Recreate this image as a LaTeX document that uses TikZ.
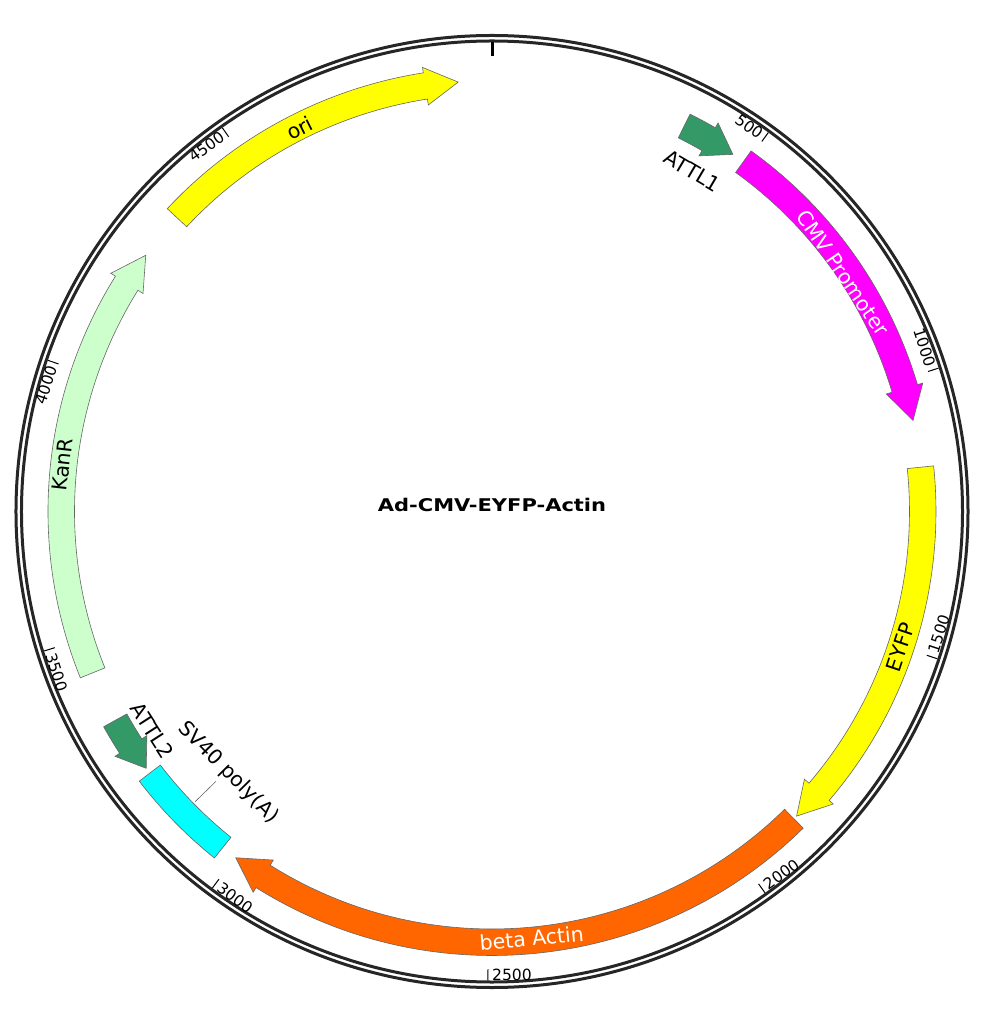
\documentclass[tikz,border=0pt]{standalone}
\usepackage{fontspec}
\usepackage{graphicx}
\setmainfont{DejaVu Sans}
\definecolor{ringcol}{HTML}{262626}
\definecolor{featline}{HTML}{666666}
\definecolor{oriyel}{HTML}{FFFF00}
\definecolor{attgreen}{HTML}{339966}
\definecolor{cmvmag}{HTML}{FF00FF}
\definecolor{actorange}{HTML}{FF6600}
\definecolor{svcyan}{HTML}{00FFFF}
\definecolor{kanlight}{HTML}{CCFFCC}
\def\fRo{444pt}
\def\fRi{417.5pt}
\def\fRm{430.75pt}
\def\fHo{449.5pt}
\def\fHi{411.5pt}
% #1 colour, #2 tail angle, #3 head base angle, #4 tip angle
\newcommand{\featarrow}[4]{%
  \filldraw[feat, fill=#1] (#2:\fRo) arc[start angle=#2, end angle=#3, radius=\fRo]
    -- (#3:\fHo) -- (#4:\fRm) -- (#3:\fHi) -- (#3:\fRi)
    arc[start angle=#3, end angle=#2, radius=\fRi] -- cycle;}
\tikzset{
  ring/.style={draw=ringcol, line width=3pt},
  feat/.style={draw=featline, line width=0.6pt},
  ticklbl/.style={font=\fontsize{15.5pt}{18pt}\selectfont, inner sep=0pt},
  featlbl/.style={font=\fontsize{20.5pt}{24pt}\selectfont, inner sep=0pt},
  minortick/.style={line width=1pt, draw=black},
  zerotick/.style={line width=3pt, draw=black},
  leader/.style={draw=featline, line width=0.6pt},
}
\begin{document}
\begin{tikzpicture}
\useasboundingbox (-492pt,-510.5pt) rectangle (493pt,511.5pt);
% backbone
\draw[ring] (0,0) circle[radius=476pt];
\draw[ring] (0,0) circle[radius=470.5pt];
% ticks
\draw[zerotick] (90:455pt) -- (90:469pt);
\foreach \t in {53.9,17.8,-18.3,-54.4,-90.5,-126.6,-162.7,-198.8,-234.9}
  \draw[minortick] (\t:458pt) -- (\t:469pt);
% tick labels
\node[ticklbl, anchor=base east, rotate=-36.1] (t500) at (54.4:457pt) {500};
\node[ticklbl, anchor=base east, rotate=-72.2] (t1000) at (18.3:457pt) {1000};
\node[ticklbl, anchor=base west, rotate=71.7] (t1500) at (-17.8:469pt) {1500};
\node[ticklbl, anchor=base west, rotate=35.6] (t2000) at (-53.9:469pt) {2000};
\node[ticklbl, anchor=base west, rotate=-0.5] (t2500) at (-90:469pt) {2500};
\node[ticklbl, anchor=base west, rotate=-36.6] (t3000) at (-126.1:469pt) {3000};
\node[ticklbl, anchor=base west, rotate=-72.7] (t3500) at (-162.2:469pt) {3500};
\node[ticklbl, anchor=base east, rotate=71.2] (t4000) at (-198.3:457pt) {4000};
\node[ticklbl, anchor=base east, rotate=35.1] (t4500) at (-234.4:457pt) {4500};
% features
\featarrow{oriyel}{137}{98.9}{94.5}
\featarrow{attgreen}{63.5}{59.8}{56}
\featarrow{cmvmag}{54.3}{16.6}{12.2}
\featarrow{oriyel}{5.9}{-40.6}{-45}
\featarrow{actorange}{-45.5}{-122.1}{-126.5}
\filldraw[feat, fill=svcyan] (-128.7:\fRo) arc[start angle=-128.7, end angle=-142.6, radius=\fRo]
  -- (-142.6:\fRi) arc[start angle=-142.6, end angle=-128.7, radius=\fRi] -- cycle;
\featarrow{attgreen}{-151}{-147}{-143.4}
\featarrow{kanlight}{-158}{-212}{-216.5}
% feature labels
\node[featlbl, rotate=26.65] (lori) at (116.65:429pt) {ori};
\node[featlbl, text=white, rotate=-55.8] (lcmv) at (34.2:424.5pt) {CMV Promoter};
\node[featlbl, rotate=71.6] (leyfp) at (-18.4:430pt) {EYFP};
\node[featlbl, text=white, rotate=5.3] (lact) at (-84.7:428.5pt) {beta Actin};
\node[featlbl, rotate=83.8] (lkan) at (-186.2:432pt) {KanR};
\node[featlbl, rotate=-30.5] (latt1) at (59.5:395pt) {ATTL1};
\node[featlbl, rotate=-57.2] (latt2) at (-147.2:404pt) {ATTL2};
\node[featlbl, rotate=-45.3] (lsv) at (-135.3:371pt) {SV40 poly(A)};
\coordinate (svbox) at (-135.65:415pt);
\coordinate (svlbl) at (-135.65:386pt);
\draw[leader] (svbox) -- (svlbl);
% title
\node[font=\bfseries\fontsize{17.5pt}{21pt}\selectfont, anchor=base, inner sep=0pt] (title) at (0,-0.5pt) {\scalebox{1.2}[1]{Ad-CMV-EYFP-Actin}};
\end{tikzpicture}
\end{document}
